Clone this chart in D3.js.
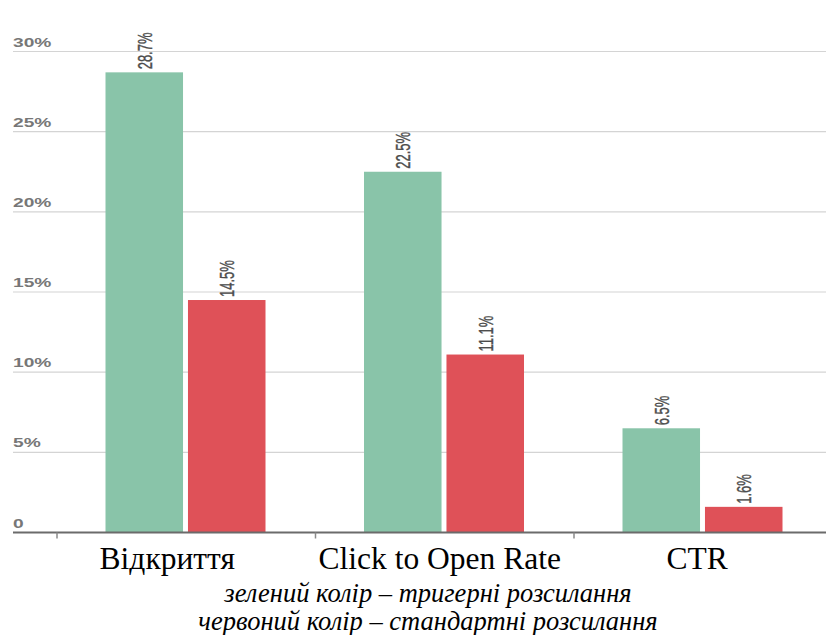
<!DOCTYPE html>
<html>
<head>
<meta charset="utf-8">
<script src="https://cdn.jsdelivr.net/npm/d3@7"></script>
<style>
  html, body { margin: 0; padding: 0; background: #ffffff; }
  svg { display: block; }
</style>
</head>
<body>
<svg id="chart" width="826" height="635"></svg>
<script>
// Email campaign metrics: triggered vs standard mailings
const categories = ["Відкриття", "Click to Open Rate", "CTR"];
const series = ["тригерні", "стандартні"];
const triggeredValues = [28.7, 22.5, 6.5];
const standardValues = [14.5, 11.1, 1.6];
const yTicks = [0, 5, 10, 15, 20, 25, 30];
const legendLines = [
  "зелений колір – тригерні розсилання",
  "червоний колір – стандартні розсилання"
];

const colors = { "тригерні": "#89c4a9", "стандартні": "#df5158" };

const rows = categories.map((c, i) => ({
  category: c,
  values: [
    { key: series[0], value: triggeredValues[i] },
    { key: series[1], value: standardValues[i] }
  ]
}));

const svg = d3.select("#chart");
const W = 826;
const gridLeft = 13;
const stretch = 1.5; // horizontal widening of the chart's sans text

const y = d3.scaleLinear().domain([0, 30]).range([532.5, 51.5]);
const x0 = d3.scaleBand().domain(categories).range([57, 57 + 3 * 258.5]).padding(0);
const x1 = d3.scaleBand().domain(series).range([48.5, 208.5]).paddingInner(0.06);

// Horizontal gridlines
svg.append("g")
  .selectAll("line")
  .data(yTicks.filter(t => t > 0))
  .join("line")
  .attr("x1", gridLeft).attr("x2", W)
  .attr("y1", d => y(d)).attr("y2", d => y(d))
  .attr("stroke", "#d4d4d4").attr("stroke-width", 1.2);

// Y tick labels sit just above their gridlines
svg.append("g")
  .selectAll("text")
  .data(yTicks)
  .join("text")
  .attr("transform", d => `translate(${gridLeft},${y(d) - 5}) scale(${stretch},1)`)
  .attr("font-family", "Liberation Sans, Arial, sans-serif")
  .attr("font-weight", "bold")
  .attr("font-size", 12.8)
  .attr("fill", "#777777")
  .text(d => d === 0 ? "0" : d + "%");

// Bars
const groups = svg.append("g")
  .selectAll("g")
  .data(rows)
  .join("g")
  .attr("transform", d => `translate(${x0(d.category)},0)`);

groups.selectAll("rect")
  .data(d => d.values)
  .join("rect")
  .attr("x", d => x1(d.key))
  .attr("y", d => y(d.value))
  .attr("width", x1.bandwidth())
  .attr("height", d => y(0) - y(d.value))
  .attr("fill", d => colors[d.key]);

// Rotated value labels above each bar
groups.selectAll("text")
  .data(d => d.values)
  .join("text")
  .attr("transform", d => `translate(${x1(d.key) + x1.bandwidth() / 2},${y(d.value) - 3}) scale(1.6,1) rotate(-90)`)
  .attr("dy", "0.35em")
  .attr("font-family", "Liberation Sans, Arial, sans-serif")
  .attr("font-size", 13)
  .attr("fill", "#4d4d4d")
  .attr("stroke", "#4d4d4d")
  .attr("stroke-width", 0.25)
  .text(d => d.value.toFixed(1) + "%");

// Baseline axis with ticks at category boundaries
svg.append("line")
  .attr("x1", gridLeft).attr("x2", W)
  .attr("y1", y(0)).attr("y2", y(0))
  .attr("stroke", "#6b6b6b").attr("stroke-width", 2);

svg.append("g")
  .selectAll("line")
  .data(categories)
  .join("line")
  .attr("x1", d => x0(d)).attr("x2", d => x0(d))
  .attr("y1", y(0)).attr("y2", y(0) + 6)
  .attr("stroke", "#8a8a8a").attr("stroke-width", 1.5);

// Category names below the axis
const labelShift = [-19, -5, -6];
svg.append("g")
  .selectAll("text")
  .data(categories)
  .join("text")
  .attr("x", (d, i) => x0(d) + x0.bandwidth() / 2 + labelShift[i])
  .attr("y", 569)
  .attr("text-anchor", "middle")
  .attr("font-family", "Liberation Serif, Times New Roman, serif")
  .attr("font-size", 31.5)
  .attr("fill", "#000")
  .text(d => d);

// Colour key
svg.append("g")
  .selectAll("text")
  .data(legendLines)
  .join("text")
  .attr("x", 428)
  .attr("y", (d, i) => 602 + i * 28)
  .attr("text-anchor", "middle")
  .attr("font-family", "Liberation Serif, Times New Roman, serif")
  .attr("font-style", "italic")
  .attr("font-size", 26.5)
  .attr("fill", "#000")
  .text(d => d);
</script>
</body>
</html>
